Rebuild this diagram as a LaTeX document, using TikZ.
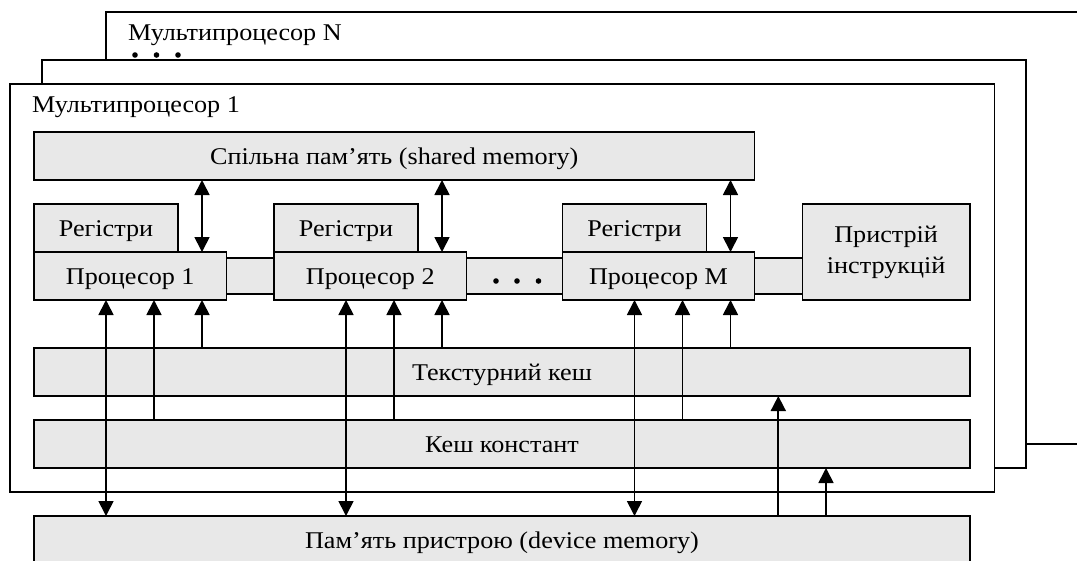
\documentclass[tikz,border=0pt]{standalone}
\usepackage{fontspec}
\setmainfont{Liberation Serif}[FakeStretch=1.09]
\usetikzlibrary{arrows.meta}
\definecolor{boxgray}{RGB}{232,232,232}
\tikzset{
  frame/.style={draw, line width=1.5pt, fill=white, outer sep=0pt, inner sep=0pt, anchor=north west},
  blk/.style={draw, line width=1.5pt, fill=boxgray, outer sep=0pt, inner sep=0pt, anchor=north west,
    font=\fontsize{24}{31}\selectfont},
  onel/.style={text height=18pt, text depth=2pt},
  lbl/.style={inner sep=0pt, font=\fontsize{24}{28}\selectfont},
  bar/.style={draw, line width=1.5pt, fill=boxgray},
  tip/.tip={Triangle[width=15pt,length=15pt]},
  conn/.style={line width=1.7pt, -tip},
  biconn/.style={line width=1.7pt, tip-tip},
}
\begin{document}
\begin{tikzpicture}[x=1pt,y=-1pt]
\useasboundingbox (0,0) rectangle (1077,560);
\clip (0,0) rectangle (1077,560);
% multiprocessor frames
\node[frame, minimum width=1000pt, minimum height=432pt] (mpN) at (106,12) {};
\node[lbl, anchor=base west] (tN) at (128,40) {Мультипроцесор N};
\node[frame, minimum width=984pt, minimum height=408pt] (mp2) at (42,60) {};
\fill (135,55) circle (2.8pt) (156.5,55) circle (2.8pt) (178,55) circle (2.8pt);
\node[frame, minimum width=984.7pt, minimum height=408pt] (mp1) at (10,84) {};
\node[lbl, anchor=base west] (t1) at (32,112) {Мультипроцесор 1};
% blocks
\node[blk, onel, minimum width=720.5pt, minimum height=48pt] (sm) at (34,132) {Спільна пам’ять (shared memory)};
\node[blk, onel, minimum width=144pt, minimum height=48pt] (r1) at (34,204) {Регістри};
\node[blk, onel, minimum width=144pt, minimum height=48pt] (r2) at (274,204) {Регістри};
\node[blk, onel, minimum width=144pt, minimum height=48pt] (rM) at (562.5,204) {Регістри};
\node[blk, onel, minimum width=192.5pt, minimum height=48pt] (p1) at (34,252) {Процесор 1};
\node[blk, onel, minimum width=192.5pt, minimum height=48pt] (p2) at (274,252) {Процесор 2};
\node[blk, onel, minimum width=192pt, minimum height=48pt] (pM) at (562.5,252) {Процесор M};
\node[blk, align=center, minimum width=167.7pt, minimum height=96pt] (ins) at (802.3,204) {Пристрій\\інструкцій};
\node[blk, onel, minimum width=936pt, minimum height=48pt] (tex) at (34,348) {Текстурний кеш};
\node[blk, onel, minimum width=936pt, minimum height=48pt] (cc) at (34,420) {Кеш констант};
\node[blk, onel, minimum width=936pt, minimum height=48pt] (dev) at (34,516) {Пам’ять пристрою (device memory)};
% bars between processors
\draw[bar] (p1.east |- 0,258) rectangle (p2.west |- 0,294);
\draw[bar] (p2.east |- 0,258) rectangle (pM.west |- 0,294);
\draw[bar] (pM.east |- 0,258) rectangle (ins.west |- 0,294);
\fill (496,281) circle (2.8pt) (517,281) circle (2.8pt) (538.5,281) circle (2.8pt);
% connectors for each processor
\foreach \p in {p1,p2,pM}{
  \draw[biconn] ([xshift=168pt]\p.north west |- sm.south) -- ([xshift=168pt]\p.north west);
  \draw[conn] ([xshift=168pt]\p.south west |- tex.north) -- ([xshift=168pt]\p.south west);
  \draw[conn] ([xshift=120pt]\p.south west |- cc.north) -- ([xshift=120pt]\p.south west);
  \draw[biconn] ([xshift=72pt]\p.south west) -- ([xshift=72pt]\p.south west |- dev.north);
}
\coordinate (dt) at (778.3,516);
\coordinate (dc) at (826,516);
\draw[conn] (dt) -- (dt |- tex.south);
\draw[conn] (dc) -- (dc |- cc.south);
\end{tikzpicture}
\end{document}
